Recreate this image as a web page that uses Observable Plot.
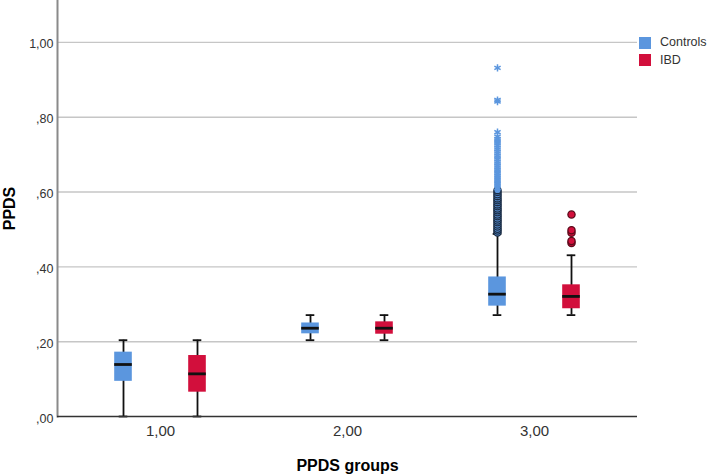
<!DOCTYPE html>
<html>
<head>
<meta charset="utf-8">
<script src="https://cdn.jsdelivr.net/npm/d3@7"></script>
<script src="https://cdn.jsdelivr.net/npm/@observablehq/plot@0.6"></script>
<style>
  body { margin: 0; background: #fff; font-family: Arial, "Liberation Sans", sans-serif; }
  #wrap { position: relative; width: 709px; height: 475px; }
  #legend { position: absolute; left: 639px; top: 34px; font-size: 12.5px; color: #333; line-height: 17.5px; }
  #legend .item { display: flex; align-items: center; }
  #legend .sw { width: 12px; height: 12px; margin-right: 9px; }
</style>
</head>
<body>
<div id="wrap"><div id="legend"></div></div>
<script>
// ---- data ----
const groups = ["1,00", "2,00", "3,00"];
const series = ["Controls", "IBD"];
const seriesColors = ["#5b96de", "#d20f3c"];

const yTicks = [0, 0.2, 0.4, 0.6, 0.8, 1.0];
const yTickLabels = [",00", ",20", ",40", ",60", ",80", "1,00"];

// box statistics (one entry per group x series)
const boxGroup   = ["1,00", "1,00", "2,00", "2,00", "3,00", "3,00"];
const boxSeries  = ["Controls", "IBD", "Controls", "IBD", "Controls", "IBD"];
const whiskerLow = [0.000, 0.000, 0.204, 0.204, 0.271, 0.271];
const q1         = [0.094, 0.065, 0.221, 0.220, 0.295, 0.288];
const median     = [0.139, 0.114, 0.236, 0.236, 0.327, 0.321];
const q3         = [0.172, 0.163, 0.250, 0.253, 0.373, 0.352];
const whiskerHigh= [0.204, 0.204, 0.271, 0.271, 0.488, 0.431];

// outliers (circles) and extreme values (stars), group 3,00
const outControls = [0.492, 0.497, 0.502, 0.508, 0.513, 0.519, 0.524, 0.529, 0.535, 0.540,
                     0.546, 0.551, 0.556, 0.562, 0.567, 0.573, 0.578, 0.583, 0.589, 0.594, 0.600, 0.605];
const outIBD = [0.464, 0.469, 0.491, 0.498, 0.540];
const extremeControls = [0.611, 0.616, 0.622, 0.627, 0.632, 0.638, 0.643, 0.649, 0.654, 0.659,
                         0.665, 0.670, 0.676, 0.681, 0.687, 0.692, 0.697, 0.703, 0.708, 0.714,
                         0.719, 0.725, 0.731, 0.736, 0.742, 0.748, 0.760, 0.842, 0.846, 0.932];

// ---- tables ----
const boxes = boxGroup.map((g, i) => ({
  group: g, series: boxSeries[i], lo: whiskerLow[i], q1: q1[i],
  med: median[i], q3: q3[i], hi: whiskerHigh[i]
}));
const outliers = [
  ...outControls.map(v => ({group: "3,00", series: "Controls", v})),
  ...outIBD.map(v => ({group: "3,00", series: "IBD", v}))
];
const extremes = extremeControls.map(v => ({group: "3,00", series: "Controls", v}));

// ---- layout ----
const W = 709, H = 475, mL = 57, mR = 72, mT = 0, mB = 59;
const pad = 0.1;
const bw = (W - mL - mR) / (groups.length + pad) * (1 - pad);
const offset = 37, boxW = 18, capW = 9;
const boxInset = (bw - boxW) / 2, capInset = (bw - capW) / 2;
const colorOf = s => seriesColors[series.indexOf(s)];

const seriesMarks = series.flatMap((s, k) => {
  const dx = k === 0 ? -offset : offset;
  const f = d => d.series === s;
  return [
    Plot.ruleX(boxes, {filter: f, x: "group", y1: "lo", y2: "hi", dx, stroke: "#111", strokeWidth: 1.8}),
    Plot.tickY(boxes, {filter: f, x: "group", y: "lo", dx, insetLeft: capInset, insetRight: capInset, stroke: "#111", strokeWidth: 1.8}),
    Plot.tickY(boxes, {filter: f, x: "group", y: "hi", dx, insetLeft: capInset, insetRight: capInset, stroke: "#111", strokeWidth: 1.8}),
    Plot.barY(boxes, {filter: f, x: "group", y1: "q1", y2: "q3", dx, insetLeft: boxInset, insetRight: boxInset, fill: colorOf(s)}),
    Plot.tickY(boxes, {filter: f, x: "group", y: "med", dx, insetLeft: boxInset, insetRight: boxInset, stroke: "#111", strokeWidth: 2.8}),
    Plot.dot(outliers, {filter: f, x: "group", y: "v", dx, r: 3.6, fill: colorOf(s), stroke: s === "IBD" ? "#5a0a1a" : "#1b2d45", strokeWidth: 1.3}),
    Plot.dot(extremes, {filter: f, x: "group", y: "v", dx, r: 3.4, symbol: "asterisk", stroke: colorOf(s), strokeWidth: 1.5})
  ];
});

const chart = Plot.plot({
  width: W, height: H,
  marginLeft: mL, marginRight: mR, marginTop: mT, marginBottom: mB,
  style: {fontFamily: "Arial, 'Liberation Sans', sans-serif", background: "#fff", color: "#333"},
  x: {domain: groups, padding: pad, axis: null},
  y: {domain: [0, 1.112], axis: null},
  marks: [
    Plot.ruleY(yTicks.filter(d => d > 0), {stroke: "#c6c6c6", strokeWidth: 1.4}),
    Plot.axisY(yTicks, {tickSize: 0, tickPadding: 4, fontSize: 12.5, dy: 2,
      tickFormat: d => yTickLabels[yTicks.indexOf(d)], label: null}),
    Plot.axisX({tickSize: 0, tickPadding: 9, fontSize: 15, label: null}),
    Plot.text(["PPDS"], {frameAnchor: "left", textAnchor: "middle", lineAnchor: "middle", rotate: -90, dx: -48, fontSize: 16, fontWeight: "bold", fill: "#000"}),
    Plot.text(["PPDS groups"], {frameAnchor: "bottom", textAnchor: "middle", lineAnchor: "middle", dy: 49, fontSize: 16, fontWeight: "bold", fill: "#000"}),
    Plot.frame({anchor: "left", stroke: "#8a8a8a", strokeWidth: 2}),
    ...seriesMarks,
    Plot.ruleY([0], {stroke: "#333", strokeWidth: 1.5})
  ]
});
document.getElementById("wrap").prepend(chart);

// legend
const leg = document.getElementById("legend");
series.forEach((s, i) => {
  const item = document.createElement("div");
  item.className = "item";
  const sw = document.createElement("div");
  sw.className = "sw";
  sw.style.background = seriesColors[i];
  const t = document.createElement("span");
  t.textContent = s;
  item.append(sw, t);
  leg.append(item);
});
</script>
</body>
</html>
